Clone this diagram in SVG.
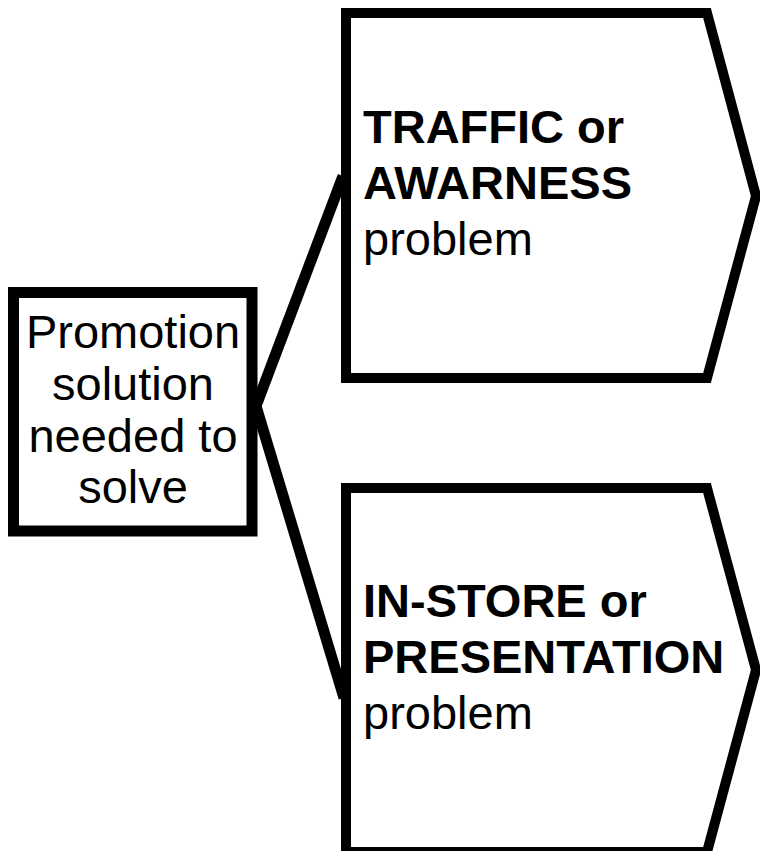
<svg xmlns="http://www.w3.org/2000/svg" width="760" height="851" viewBox="0 0 760 851">
<style>
.shape{fill:#fff;stroke:#000;stroke-width:10;stroke-linejoin:miter}
.box{stroke-width:11}
.conn{fill:none;stroke:#000;stroke-width:11}
text{font-family:"Liberation Sans",Arial,sans-serif;font-size:47px;fill:#000}
.b{font-weight:bold}
</style>
<rect width="760" height="851" fill="#fff"/>
<g id="connectors">
<line class="conn" x1="256" y1="406" x2="343" y2="176"/>
<line class="conn" x1="256" y1="406" x2="344" y2="698"/>
</g>
<g id="node-source">
<rect class="shape box" x="13.5" y="292.5" width="238.5" height="238.5"/>
<text text-anchor="middle" x="133" y="348">Promotion</text>
<text text-anchor="middle" x="133" y="400">solution</text>
<text text-anchor="middle" x="133" y="452">needed to</text>
<text text-anchor="middle" x="133" y="503">solve</text>
</g>
<g id="node-traffic">
<path class="shape" d="M346,13 L707,13 L756,196 L707,378 L346,378 Z"/>
<text class="b" x="363" y="143">TRAFFIC or</text>
<text class="b" x="363" y="199">AWARNESS</text>
<text x="363" y="255">problem</text>
</g>
<g id="node-instore">
<path class="shape" d="M346,488 L707,488 L756,670 L707,852 L346,852 Z"/>
<text class="b" x="363" y="617">IN-STORE or</text>
<text class="b" x="363" y="673">PRESENTATION</text>
<text x="363" y="729">problem</text>
</g>
</svg>
